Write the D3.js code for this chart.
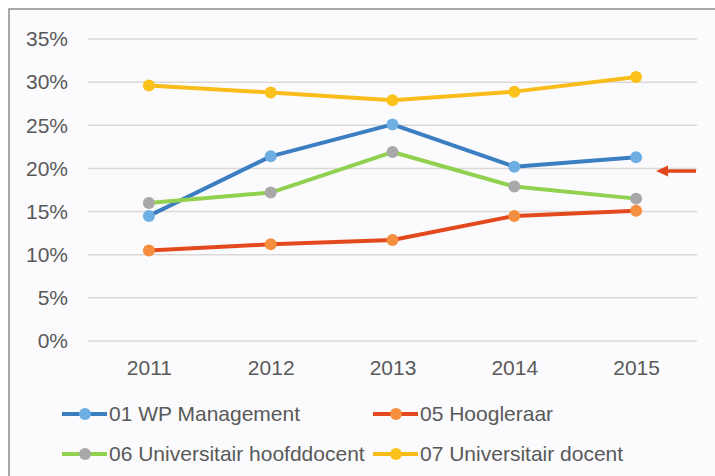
<!DOCTYPE html>
<html>
<head>
<meta charset="utf-8">
<script src="https://cdn.jsdelivr.net/npm/d3@7"></script>
<style>
  body { margin: 0; background: #ffffff; }
  text { font-family: "Liberation Sans", Arial, sans-serif; fill: #595959; }
</style>
</head>
<body>
<div id="chart"></div>
<script>
var width = 715, height = 476;

var years = ["2011", "2012", "2013", "2014", "2015"];
var yTicks = [0, 5, 10, 15, 20, 25, 30, 35];

var wpManagement = [14.5, 21.4, 25.1, 20.2, 21.3];
var hoogleraar = [10.5, 11.2, 11.7, 14.5, 15.1];
var hoofddocent = [16.0, 17.2, 21.9, 17.9, 16.5];
var docent = [29.6, 28.8, 27.9, 28.9, 30.6];

var series = [
  { name: "01 WP Management", values: wpManagement, line: "#3b7ec2", dot: "#6eaee2" },
  { name: "05 Hoogleraar", values: hoogleraar, line: "#e24a1e", dot: "#f58e3e" },
  { name: "06 Universitair hoofddocent", values: hoofddocent, line: "#92d050", dot: "#a8a8a8" },
  { name: "07 Universitair docent", values: docent, line: "#f8bd1a", dot: "#fcc21c" }
];

var svg = d3.select("#chart").append("svg")
  .attr("width", width)
  .attr("height", height);

// frame
svg.append("rect")
  .attr("x", 9).attr("y", 9)
  .attr("width", width + 10).attr("height", height + 10)
  .attr("fill", "#fbfbfd")
  .attr("stroke", "#8c8c8c")
  .attr("stroke-width", 1.5);

var x = d3.scalePoint()
  .domain(years)
  .range([88, 697])
  .padding(0.5);

var y = d3.scaleLinear()
  .domain([0, 35])
  .range([341, 39]);

// gridlines
svg.append("g").selectAll("line")
  .data(yTicks)
  .enter().append("line")
    .attr("x1", 88).attr("x2", 697)
    .attr("y1", function(d) { return y(d); })
    .attr("y2", function(d) { return y(d); })
    .attr("stroke", "#dcd8d8")
    .attr("stroke-width", 1.5);

var yAxis = svg.append("g")
  .attr("transform", "translate(68,0)")
  .call(d3.axisLeft(y).tickValues(yTicks).tickSize(0).tickPadding(0)
    .tickFormat(function(d) { return d + "%"; }));
yAxis.select(".domain").remove();
yAxis.selectAll("text")
  .attr("font-size", "21px")
  .attr("fill", "#595959");

var xAxis = svg.append("g")
  .attr("transform", "translate(0,360)")
  .call(d3.axisBottom(x).tickSize(0).tickPadding(0));
xAxis.select(".domain").remove();
xAxis.selectAll("text")
  .attr("font-size", "21px")
  .attr("fill", "#595959");

var line = d3.line()
  .x(function(d, i) { return x(years[i]); })
  .y(function(d) { return y(d); });

var groups = svg.selectAll(".series")
  .data(series)
  .enter().append("g")
    .attr("class", "series");

groups.append("path")
  .attr("d", function(d) { return line(d.values); })
  .attr("fill", "none")
  .attr("stroke", function(d) { return d.line; })
  .attr("stroke-width", 4)
  .attr("stroke-linejoin", "round");

groups.selectAll("circle")
  .data(function(d) { return d.values.map(function(v, i) { return { v: v, i: i, c: d.dot }; }); })
  .enter().append("circle")
    .attr("cx", function(d) { return x(years[d.i]); })
    .attr("cy", function(d) { return y(d.v); })
    .attr("r", 6)
    .attr("fill", function(d) { return d.c; });

// arrow
var arrow = svg.append("g").attr("transform", "translate(0," + y(19.7) + ")");
arrow.append("line")
  .attr("x1", 665).attr("x2", 696)
  .attr("y1", 0).attr("y2", 0)
  .attr("stroke", "#e2461b")
  .attr("stroke-width", 3.5);
arrow.append("path")
  .attr("d", "M656,0 L668,-5.5 L668,5.5 Z")
  .attr("fill", "#e2461b");

// legend
var legendPos = [[62, 414], [373, 414], [62, 454], [373, 454]];
var legend = svg.selectAll(".legend")
  .data(series)
  .enter().append("g")
    .attr("class", "legend")
    .attr("transform", function(d, i) { return "translate(" + legendPos[i][0] + "," + legendPos[i][1] + ")"; });

legend.append("line")
  .attr("x1", 0).attr("x2", 45)
  .attr("stroke", function(d) { return d.line; })
  .attr("stroke-width", 4);
legend.append("circle")
  .attr("cx", 23).attr("r", 6)
  .attr("fill", function(d) { return d.dot; });
legend.append("text")
  .attr("x", 47)
  .attr("dy", "0.35em")
  .attr("font-size", "21px")
  .text(function(d) { return d.name; });
</script>
</body>
</html>
